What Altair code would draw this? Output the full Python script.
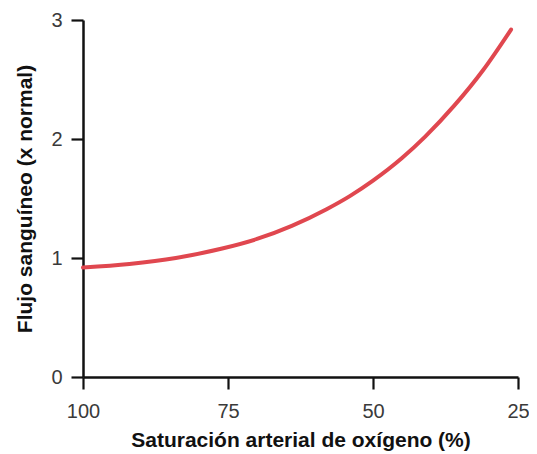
import altair as alt
import pandas as pd

saturation = [100, 92, 84, 76, 70, 64, 58, 54, 50, 45, 41, 36, 31, 26.2]
flow = [0.92, 0.95, 1.00, 1.08, 1.16, 1.27, 1.41, 1.52, 1.65, 1.84, 2.02, 2.28, 2.58, 2.92]

x_ticks = [100, 75, 50, 25]
y_ticks = [0, 1, 2, 3]

df = pd.DataFrame({"sat": saturation, "flow": flow})

chart = alt.Chart(df).mark_line(color="#e0474f", strokeWidth=4, interpolate="monotone",
                                strokeCap="round").encode(
    x=alt.X("sat:Q",
            scale=alt.Scale(domain=[100, 25], nice=False, zero=False),
            axis=alt.Axis(values=x_ticks, title="Saturación arterial de oxígeno (%)",
                          grid=False, tickSize=12, labelPadding=12, titlePadding=8,
                          labelFlush=False)),
    y=alt.Y("flow:Q",
            scale=alt.Scale(domain=[0, 3], nice=False),
            axis=alt.Axis(values=y_ticks, title="Flujo sanguíneo (x normal)",
                          grid=False, tickSize=12, labelPadding=9, titlePadding=15,
                          labelFlush=False)),
).properties(
    width=435, height=357,
    autosize=alt.AutoSizeParams(type="none"),
    padding={"left": 75, "top": 12, "right": 11, "bottom": 77},
).configure_view(stroke=None).configure_axis(
    domainColor="#111111", domainWidth=2.5, tickColor="#111111", tickWidth=2.2,
    labelFont="Liberation Sans", labelFontSize=20, labelColor="#3a3a3a",
    titleFont="Liberation Sans", titleFontSize=21, titleFontWeight="bold", titleColor="#111111",
)

chart.save("out.html", embed_options={"renderer": "svg", "actions": False})
